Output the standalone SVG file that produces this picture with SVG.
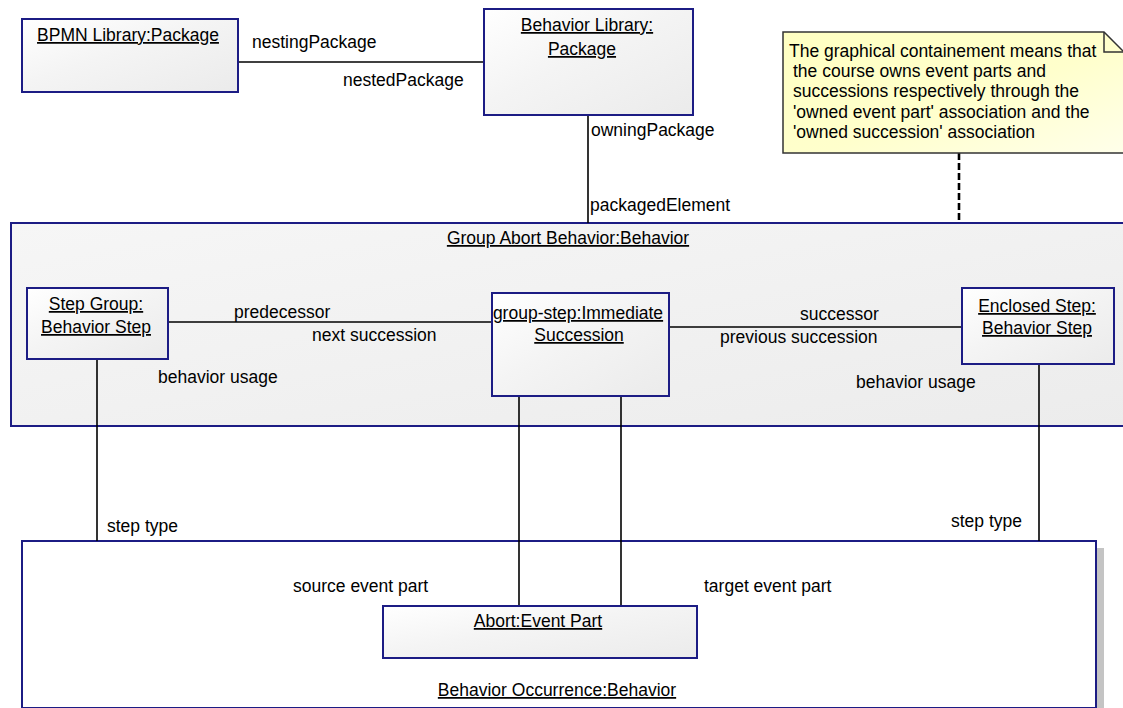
<svg xmlns="http://www.w3.org/2000/svg" width="1123" height="708" viewBox="0 0 1123 708">
  <defs>
    <linearGradient id="boxFill" x1="0" y1="0" x2="1" y2="1">
      <stop offset="0" stop-color="#ffffff"/>
      <stop offset="0.45" stop-color="#f4f4f4"/>
      <stop offset="1" stop-color="#ebebeb"/>
    </linearGradient>
    <linearGradient id="groupFill" x1="0" y1="0" x2="1" y2="1">
      <stop offset="0" stop-color="#f6f6f6"/>
      <stop offset="0.5" stop-color="#f1f1f1"/>
      <stop offset="1" stop-color="#ececec"/>
    </linearGradient>
    <linearGradient id="noteFill" x1="0" y1="0" x2="1" y2="1">
      <stop offset="0" stop-color="#ffffc2"/>
      <stop offset="0.55" stop-color="#ffffcc"/>
      <stop offset="1" stop-color="#ffffea"/>
    </linearGradient>
    <style>
      .box { stroke: #1c1c84; stroke-width: 2; }
      .conn { stroke: #000; stroke-width: 1.6; fill: none; }
      .dash { stroke: #000; stroke-width: 2.6; stroke-dasharray: 7 3; fill: none; }
      text { font-family: "Liberation Sans", Arial, sans-serif; font-size: 17.5px; fill: #000; }
      .title { text-decoration: underline; text-anchor: middle; }
    </style>
  </defs>

  <rect x="0" y="0" width="1123" height="708" fill="#ffffff"/>

  <!-- containers -->
  <g id="group-abort-behavior">
    <rect class="box" x="11" y="223" width="1125" height="203" fill="url(#groupFill)"/>
    <text class="title" x="568" y="244">Group Abort Behavior:Behavior</text>
  </g>

  <g id="behavior-occurrence">
    <rect x="1096" y="548" width="8" height="162" fill="#c4c4c4"/>
    <rect class="box" x="22" y="541" width="1074" height="167" fill="#ffffff"/>
    <text class="title" x="557" y="696">Behavior Occurrence:Behavior</text>
  </g>

  <!-- connectors -->
  <g id="connectors">
    <line class="conn" x1="238" y1="62" x2="484" y2="62"/>
    <line class="conn" x1="588" y1="115" x2="588" y2="223"/>
    <line class="conn" x1="168" y1="322" x2="492" y2="322"/>
    <line class="conn" x1="669" y1="327" x2="962" y2="327"/>
    <line class="conn" x1="97" y1="359" x2="97" y2="541"/>
    <line class="conn" x1="1039" y1="364" x2="1039" y2="541"/>
    <line class="conn" x1="519" y1="396" x2="519" y2="606"/>
    <line class="conn" x1="621" y1="396" x2="621" y2="606"/>
    <line class="dash" x1="959" y1="153" x2="959" y2="223"/>

    <text x="252" y="48">nestingPackage</text>
    <text x="343" y="86">nestedPackage</text>
    <text x="591" y="136">owningPackage</text>
    <text x="590" y="211">packagedElement</text>
    <text x="234" y="318">predecessor</text>
    <text x="312" y="341">next succession</text>
    <text x="800" y="320">successor</text>
    <text x="720" y="343">previous succession</text>
    <text x="158" y="383">behavior usage</text>
    <text x="856" y="388">behavior usage</text>
    <text x="107" y="532">step type</text>
    <text x="951" y="527">step type</text>
    <text x="293" y="592">source event part</text>
    <text x="704" y="592">target event part</text>
  </g>

  <!-- nodes -->
  <g id="bpmn-library">
    <rect class="box" x="22" y="19" width="216" height="73" fill="url(#boxFill)"/>
    <text class="title" x="128" y="41">BPMN Library:Package</text>
  </g>

  <g id="behavior-library">
    <rect class="box" x="484" y="9" width="209" height="106" fill="url(#boxFill)"/>
    <text class="title" x="587" y="31">Behavior Library:</text>
    <text class="title" x="582" y="55">Package</text>
  </g>

  <g id="step-group">
    <rect class="box" x="27" y="288" width="141" height="71" fill="url(#boxFill)"/>
    <text class="title" x="96" y="310">Step Group:</text>
    <text class="title" x="96" y="333">Behavior Step</text>
  </g>

  <g id="group-step">
    <rect class="box" x="492" y="293" width="177" height="103" fill="url(#boxFill)"/>
    <text class="title" x="578" y="319">group-step:Immediate</text>
    <text class="title" x="579" y="341">Succession</text>
  </g>

  <g id="enclosed-step">
    <rect class="box" x="962" y="288" width="152" height="76" fill="url(#boxFill)"/>
    <text class="title" x="1037" y="312">Enclosed Step:</text>
    <text class="title" x="1037" y="334">Behavior Step</text>
  </g>

  <g id="abort-event-part">
    <rect class="box" x="383" y="606" width="314" height="52" fill="url(#boxFill)"/>
    <text class="title" x="538" y="627">Abort:Event Part</text>
  </g>

  <g id="note">
    <path d="M783 32 H1104 L1124 52 V153 H783 Z" fill="url(#noteFill)" stroke="#333" stroke-width="1.5"/>
    <path d="M1104 32 V52 H1124" fill="none" stroke="#333" stroke-width="1.5"/>
    <text x="789" y="57">The graphical containement means that</text>
    <text x="793" y="77">the course owns event parts and</text>
    <text x="793" y="97">successions respectively through the</text>
    <text x="793" y="118">'owned event part' association and the</text>
    <text x="793" y="138">'owned succession' association</text>
  </g>
</svg>
